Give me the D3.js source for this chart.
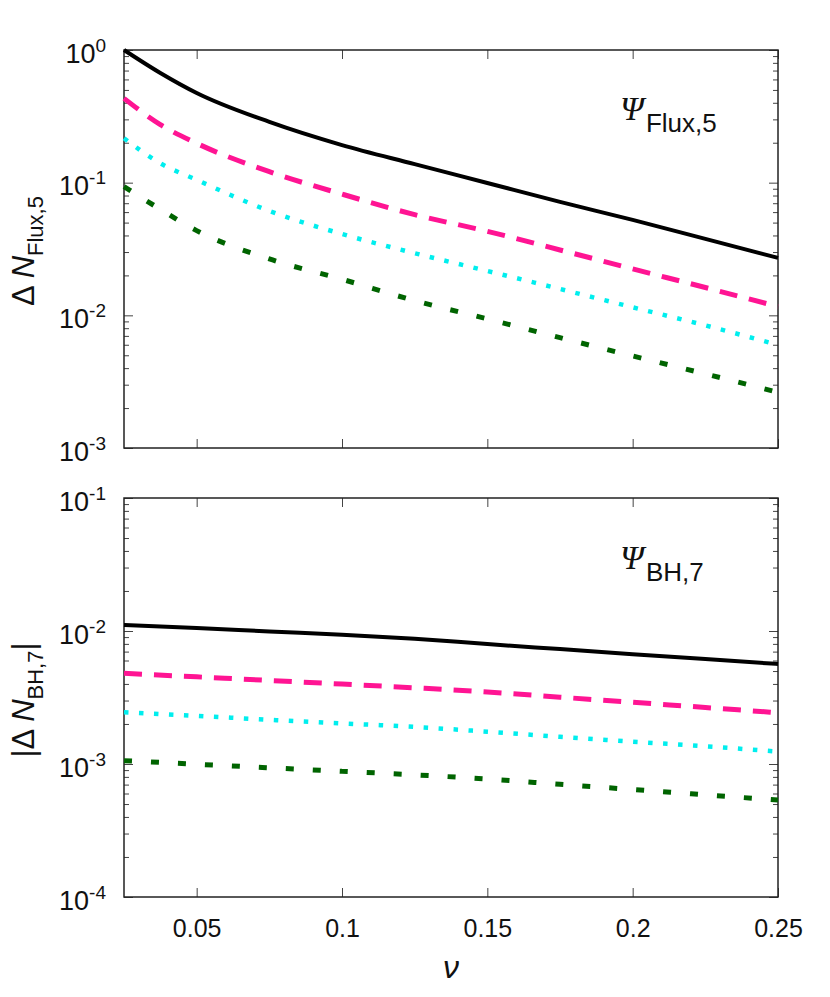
<!DOCTYPE html>
<html>
<head>
<meta charset="utf-8">
<script src="https://cdn.jsdelivr.net/npm/d3@7"></script>
<style>
body { margin: 0; background: #fff; }
text { font-family: "Liberation Sans", Arial, sans-serif; fill: #111; }
</style>
</head>
<body>
<div id="chart"></div>
<script>
// values
var nuTop = [0.025, 0.0375, 0.05, 0.075, 0.1, 0.125, 0.15, 0.175, 0.2, 0.225, 0.25];
var fluxBlack = [1.0, 0.671, 0.474, 0.287, 0.192, 0.138, 0.0995, 0.0716, 0.0524, 0.0377, 0.0271];
var fluxPink  = [0.432, 0.274, 0.198, 0.121, 0.082, 0.0574, 0.0430, 0.0311, 0.0224, 0.0162, 0.01164];
var fluxCyan  = [0.216, 0.140, 0.105, 0.0612, 0.041, 0.0294, 0.0216, 0.0158, 0.0115, 0.0084, 0.00598];
var fluxGreen = [0.0933, 0.0630, 0.0435, 0.0266, 0.0187, 0.0129, 0.0094, 0.00679, 0.00494, 0.00362, 0.00263];

var nuBottom = [0.025, 0.05, 0.075, 0.1, 0.125, 0.15, 0.175, 0.2, 0.225, 0.25];
var bhBlack = [0.01111, 0.01054, 0.00993, 0.00938, 0.00875, 0.00797, 0.00731, 0.00670, 0.00615, 0.00565];
var bhPink  = [0.00481, 0.00452, 0.00425, 0.00399, 0.00374, 0.00348, 0.00318, 0.00291, 0.00266, 0.00243];
var bhCyan  = [0.00245, 0.00230, 0.00215, 0.00202, 0.00190, 0.00175, 0.00160, 0.00147, 0.00136, 0.00124];
var bhGreen = [0.00106, 0.000996, 0.000936, 0.000881, 0.000829, 0.000771, 0.000703, 0.000643, 0.000586, 0.000536];

var xTicks = [0.05, 0.1, 0.15, 0.2, 0.25];
var xTickLabels = ["0.05", "0.1", "0.15", "0.2", "0.25"];

// styles for the four curves
var styles = [
  {color: "#000000", width: 4, dash: null},
  {color: "#ff1493", width: 5, dash: "18,12"},
  {color: "#00eeee", width: 4.5, dash: "4.5,10.5"},
  {color: "#006400", width: 5, dash: "8,19"}
];

var W = 830, H = 997;
var left = 124, right = 778;

var svg = d3.select("#chart").append("svg")
  .attr("width", W).attr("height", H);

var x = d3.scaleLinear().domain([0.025, 0.25]).range([left, right]);

function drawPanel(opt) {
  var y = d3.scaleLog().domain(opt.domain).range([opt.bottom, opt.top]);
  var g = svg.append("g");

  var decades = [], minors = [];
  var lo = Math.round(Math.log10(opt.domain[0])), hi = Math.round(Math.log10(opt.domain[1]));
  for (var e = lo; e <= hi; e++) {
    decades.push(Math.pow(10, e));
    if (e < hi) for (var m = 2; m <= 9; m++) minors.push(m * Math.pow(10, e));
  }

  // minor ticks, left and right (inward)
  g.append("g").attr("transform", "translate(" + left + ",0)")
    .call(d3.axisLeft(y).tickValues(minors).tickSize(-5).tickFormat(""));
  g.append("g").attr("transform", "translate(" + right + ",0)")
    .call(d3.axisRight(y).tickValues(minors).tickSize(-5).tickFormat(""));
  // major ticks
  var yl = g.append("g").attr("transform", "translate(" + left + ",0)")
    .call(d3.axisLeft(y).tickValues(decades).tickSize(-9).tickPadding(18));
  g.append("g").attr("transform", "translate(" + right + ",0)")
    .call(d3.axisRight(y).tickValues(decades).tickSize(-9).tickFormat(""));
  // x ticks top and bottom
  var xb = g.append("g").attr("transform", "translate(0," + opt.bottom + ")")
    .call(d3.axisBottom(x).tickValues(xTicks).tickSize(-9)
      .tickFormat(function(d, i) { return opt.xLabels ? xTickLabels[i] : ""; }).tickPadding(22));
  g.append("g").attr("transform", "translate(0," + opt.top + ")")
    .call(d3.axisTop(x).tickValues(xTicks).tickSize(-9).tickFormat(""));

  g.selectAll(".domain").remove();
  g.selectAll(".tick line").attr("stroke", "#444").attr("stroke-width", 1);

  // y tick labels as 10^n
  yl.selectAll(".tick text").each(function(d) {
    var t = d3.select(this).text(null)
      .attr("font-size", 27).attr("dy", "0.45em").attr("x", -18)
      .attr("font-family", "Liberation Sans, Arial, sans-serif");
    t.append("tspan").text("10");
    t.append("tspan").attr("font-size", 19).attr("dy", -11)
      .text(Math.round(Math.log10(d)));
  });
  xb.selectAll(".tick text").attr("font-size", 25)
    .attr("font-family", "Liberation Sans, Arial, sans-serif");

  // frame
  g.append("rect").attr("x", left).attr("y", opt.top)
    .attr("width", right - left).attr("height", opt.bottom - opt.top)
    .attr("fill", "none").attr("stroke", "#222").attr("stroke-width", 1.5);

  // curves
  var line = d3.line()
    .x(function(d) { return x(d[0]); })
    .y(function(d) { return y(d[1]); })
    .curve(d3.curveMonotoneX);
  opt.series.forEach(function(vals, i) {
    var st = styles[i];
    g.append("path")
      .datum(opt.nu.map(function(n, k) { return [n, vals[k]]; }))
      .attr("d", line)
      .attr("fill", "none")
      .attr("stroke", st.color)
      .attr("stroke-width", st.width)
      .attr("stroke-dasharray", st.dash);
  });

  // panel label
  var lab = g.append("text").attr("x", 620).attr("y", opt.labelY);
  lab.append("tspan").text("\u03A8")
    .attr("font-family", "Liberation Serif, serif").attr("font-style", "italic").attr("font-size", 34);
  lab.append("tspan").text(opt.labelSub).attr("font-size", 26).attr("dy", 12).attr("dx", 2);

  // y title
  var yt = g.append("text")
    .attr("transform", "translate(34," + opt.titleY + ") rotate(-90)")
    .attr("text-anchor", "middle").attr("font-size", 31);
  if (opt.abs) yt.append("tspan").text("|");
  yt.append("tspan").text("\u0394 ");
  yt.append("tspan").text("N").attr("font-style", "italic");
  yt.append("tspan").text(opt.titleSub).attr("font-size", 22).attr("dy", 9);
  if (opt.abs) yt.append("tspan").text("|").attr("dy", -9);
}

drawPanel({
  top: 50, bottom: 448, domain: [1e-3, 1],
  nu: nuTop, series: [fluxBlack, fluxPink, fluxCyan, fluxGreen],
  labelY: 120, labelSub: "Flux,5",
  titleY: 251, titleSub: "Flux,5", abs: false, xLabels: false
});

drawPanel({
  top: 498, bottom: 897, domain: [1e-4, 1e-1],
  nu: nuBottom, series: [bhBlack, bhPink, bhCyan, bhGreen],
  labelY: 569, labelSub: "BH,7",
  titleY: 700, titleSub: "BH,7", abs: true, xLabels: true
});

// x title
svg.append("text").attr("x", 451).attr("y", 978)
  .attr("text-anchor", "middle")
  .attr("font-family", "Liberation Serif, serif").attr("font-style", "italic")
  .attr("font-size", 32).text("\u03BD");
</script>
</body>
</html>
